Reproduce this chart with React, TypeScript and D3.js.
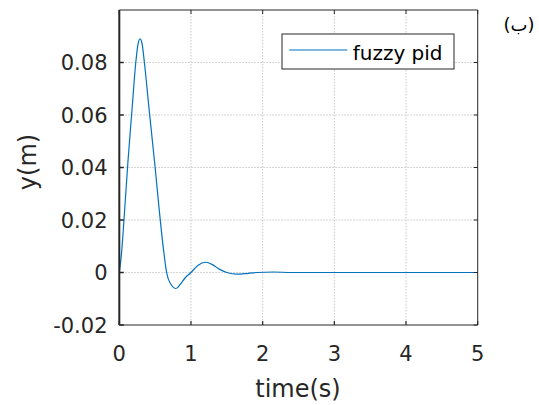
import React from "react";
import * as d3 from "d3";

const timeS = [0, 0.03, 0.07, 0.12, 0.177, 0.23, 0.26, 0.29, 0.32, 0.35, 0.42, 0.5, 0.56, 0.62, 0.66, 0.72, 0.79, 0.85, 0.92, 1.0, 1.1, 1.2, 1.3, 1.4, 1.5, 1.64, 1.8, 1.92, 2.15, 2.4, 3, 4, 5];
const yM = [0, 0.007, 0.022, 0.042, 0.062, 0.08, 0.0868, 0.089, 0.0868, 0.08, 0.061, 0.04, 0.023, 0.008, 0, -0.0045, -0.0061, -0.0045, -0.002, 0, 0.0028, 0.0039, 0.003, 0.0012, 0, -0.00064, -0.0003, 0, 0.0002, 0, 0, 0, 0];
const xTicks = [0, 1, 2, 3, 4, 5];
const yTicks = [-0.02, 0, 0.02, 0.04, 0.06, 0.08];
const yTickLabels = ["-0.02", "0", "0.02", "0.04", "0.06", "0.08"];
const legendLabel = "fuzzy pid";
const xLabel = "time(s)";
const yLabel = "y(m)";
const cornerLabel = "(ب)";

export default function App() {
  const W = 539, H = 405;
  const L = 119.3, R = 477.7, T = 10, B = 325;
  const x = d3.scaleLinear().domain([0, 5]).range([L, R]);
  const y = d3.scaleLinear().domain([-0.02, 0.1]).range([B, T]);
  const pts: [number, number][] = timeS.map((t, i) => [t, yM[i]]);
  const line = d3.line<[number, number]>().x(d => x(d[0])).y(d => y(d[1])).curve(d3.curveMonotoneX);
  const font = "'DejaVu Sans', sans-serif";
  const axisColor = "#262626";
  return (
    <svg width={W} height={H} style={{ position: "absolute", left: 0, top: 0, background: "#fff" }} fontFamily={font}>
      <rect x={0} y={0} width={W} height={H} fill="#fff" />
      {xTicks.slice(1, -1).map(t => (
        <line key={"gx" + t} x1={x(t)} x2={x(t)} y1={T} y2={B} stroke="#c8c8c8" strokeWidth={1} strokeDasharray="1.5,1.5" />
      ))}
      {yTicks.slice(1).map(t => (
        <line key={"gy" + t} x1={L} x2={R} y1={y(t)} y2={y(t)} stroke="#c8c8c8" strokeWidth={1} strokeDasharray="1.5,1.5" />
      ))}
      <path d={line(pts) || ""} fill="none" stroke="#0072BD" strokeWidth={1.2} />
      <line x1={L} x2={R} y1={T} y2={T} stroke={axisColor} strokeWidth={1} />
      <line x1={R} x2={R} y1={T} y2={B} stroke={axisColor} strokeWidth={1} />
      <line x1={L} x2={R} y1={B} y2={B} stroke={axisColor} strokeWidth={1.2} />
      <line x1={L} x2={L} y1={T} y2={B} stroke={axisColor} strokeWidth={2} />
      {xTicks.map(t => (
        <g key={"xt" + t}>
          <line x1={x(t)} x2={x(t)} y1={B} y2={B - 4} stroke={axisColor} strokeWidth={1.2} />
          <line x1={x(t)} x2={x(t)} y1={T} y2={T + 4} stroke={axisColor} strokeWidth={1} />
          <text x={x(t)} y={360.5} textAnchor="middle" fontSize={21} fill={axisColor}>{t}</text>
        </g>
      ))}
      {yTicks.map((t, i) => (
        <g key={"yt" + t}>
          <line x1={L} x2={L + 4.5} y1={y(t)} y2={y(t)} stroke={axisColor} strokeWidth={1.5} />
          <line x1={R} x2={R - 4} y1={y(t)} y2={y(t)} stroke={axisColor} strokeWidth={1} />
          <text x={107.5} y={y(t)} dy="0.36em" textAnchor="end" fontSize={21} fill={axisColor}>{yTickLabels[i]}</text>
        </g>
      ))}
      <text x={298} y={396.5} textAnchor="middle" fontSize={24} fill={axisColor}>{xLabel}</text>
      <text transform="translate(36,162) rotate(-90)" textAnchor="middle" fontSize={24} fill={axisColor}>{yLabel}</text>
      <rect x={282} y={34} width={172} height={35} fill="#fff" stroke={axisColor} strokeWidth={1} />
      <line x1={289.3} x2={347.3} y1={50} y2={50} stroke="#0072BD" strokeWidth={1.2} />
      <text x={352.7} y={59.5} fontSize={20} fill="#000">{legendLabel}</text>
      <text x={519} y={31} textAnchor="middle" fontSize={18} fill="#000">{cornerLabel}</text>
    </svg>
  );
}
